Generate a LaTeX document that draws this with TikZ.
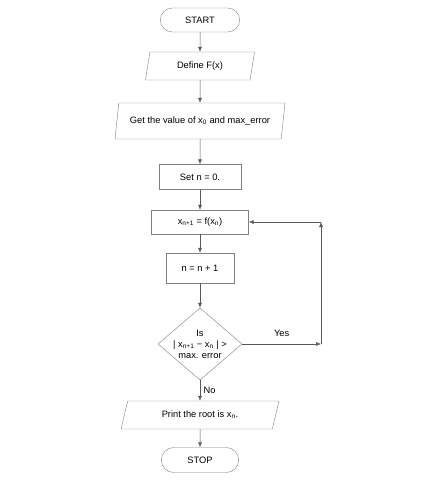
\documentclass[tikz,border=0pt]{standalone}
\usepackage{fontspec}
\setmainfont{Liberation Sans}
\usetikzlibrary{arrows.meta, shapes.geometric, shapes.misc}

\begin{document}
\begin{tikzpicture}[x=1pt, y=-1pt, font=\fontsize{9.3}{11}\selectfont,
  terminal/.style={rounded rectangle, draw=gray, minimum width=86pt, minimum height=24pt},
  io/.style={trapezium, trapezium stretches body, draw=gray, inner xsep=2pt},
  process/.style={rectangle, draw=gray},
  decision/.style={diamond, draw=gray, minimum width=84pt, minimum height=72pt, inner sep=0pt},
  flow/.style={draw=black!65, line width=0.5pt, -{Latex[length=5pt, width=4pt]}}]
\useasboundingbox (0,0) rectangle (422,480);
\node[terminal] (start) at (200,20) {START};
\node[io, trapezium left angle=74, trapezium right angle=106, minimum width=109pt, minimum height=28pt] (define) at (200,66) {Define F(x)};
\node[io, trapezium left angle=76, trapezium right angle=104, minimum width=170pt, minimum height=36pt] (getval) at (200,121) {Get the value of x\textsubscript{0} and max\_error};
\node[process, minimum width=82pt, minimum height=25pt] (setn) at (200,177) {Set n = 0.};
\node[process, minimum width=97pt, minimum height=24pt] (xnext) at (200,222) {x\textsubscript{n+1} = f(x\textsubscript{n})};
\node[process, minimum width=68pt, minimum height=30pt] (incr) at (200,268) {n = n + 1};
\node[decision] (check) at (200,344) {};
\node[align=center] (checktext) at (check) {Is\\| x\textsubscript{n+1} − x\textsubscript{n} | >\\max. error};
\node[io, trapezium left angle=65, trapezium right angle=115, minimum width=158pt, minimum height=28pt] (print) at (200,415) {Print the root is x\textsubscript{n}.};
\node[terminal, minimum width=84pt, minimum height=25pt] (stop) at (200,460) {STOP};
\coordinate (c1) at (321,344);
\coordinate (c2) at (321,222);
% main flow
\draw[flow] (start) -- (define);
\draw[flow] (define) -- (getval);
\draw[flow] (getval) -- (setn);
\draw[flow] (setn) -- (xnext);
\draw[flow] (xnext) -- (incr);
\draw[flow] (incr) -- (check);
\draw[flow] (check) -- node[right] (no) {No} (print);
\draw[flow] (print) -- (stop);
% loop back
\draw[flow] (check.east) -- node[above=4pt] (yes) {Yes} (c1);
\draw[flow] (c1) -- (c2);
\draw[flow] (c2) -- (xnext.east);
\end{tikzpicture}
\end{document}
